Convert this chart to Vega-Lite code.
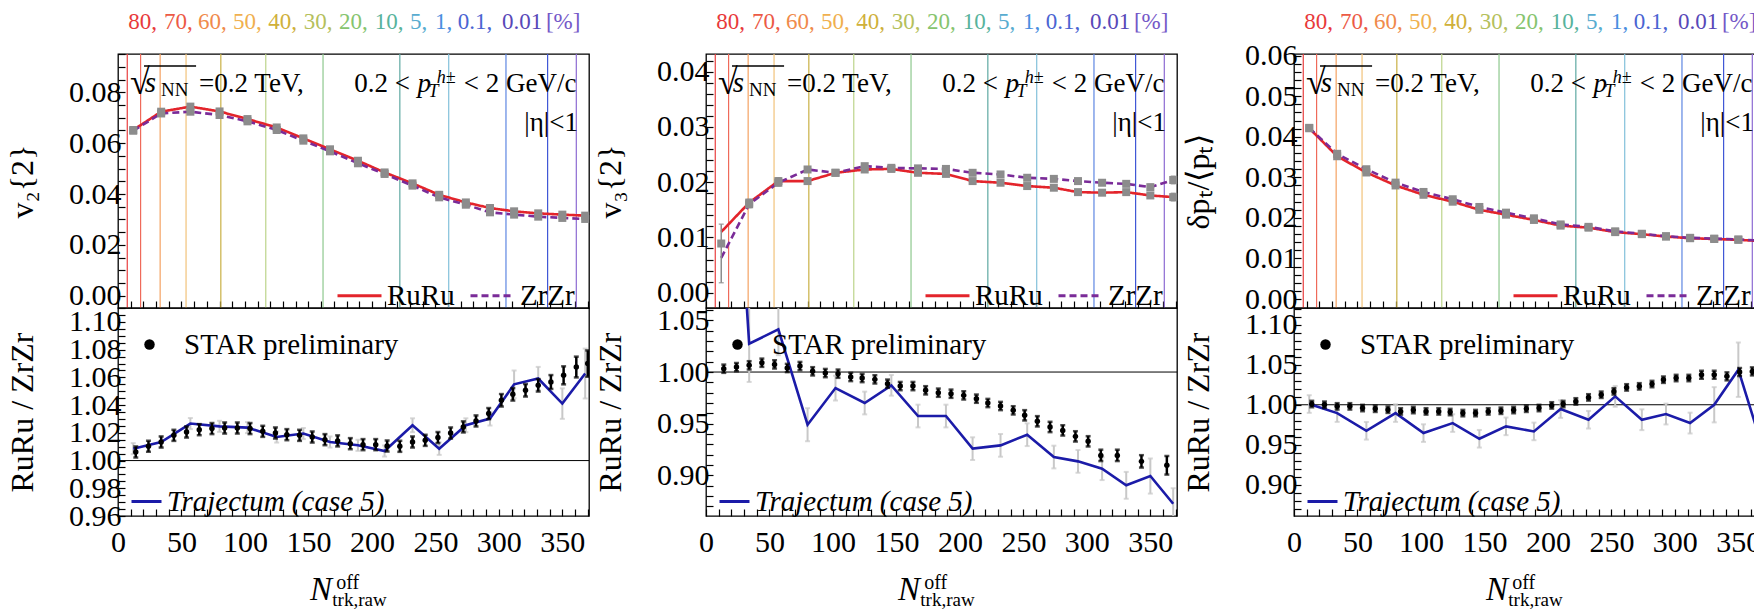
{
"$schema": "https://vega.github.io/schema/vega-lite/v6.json",
"padding": {"left": 5, "top": 10, "right": 0, "bottom": 0},
"background": "white",
"config": {
  "font": "Liberation Serif",
  "view": {"stroke": "black", "strokeWidth": 1.3},
  "axis": {"labelFont": "Liberation Serif", "labelFontSize": 30, "labelColor": "black", "labelFlush": false, "labelOverlap": false, "tickColor": "black", "tickWidth": 1.2, "domain": false, "grid": false, "titleFont": "Liberation Serif", "titleFontSize": 32, "titleFontWeight": "normal", "titleColor": "black"},
  "axisY": {"tickSize": -7, "labelPadding": 4, "titleX": -96, "titleAngle": 270, "titleBaseline": "middle", "titleAlign": "center"},
  "axisX": {"tickSize": -7, "labelPadding": 18},
  "legend": {"labelFont": "Liberation Serif", "labelFontSize": 29, "labelColor": "black", "labelLimit": 0},
  "text": {"font": "Liberation Serif", "color": "black"},
  "style": {"hdr": {"fontSize": 23, "align": "left", "baseline": "alphabetic", "dy": -25}, "ann": {"fontSize": 27, "align": "left", "baseline": "alphabetic"}}
},
"datasets": {
  "cent": [{"c":"80","n":7.3},{"c":"70","n":17.8},{"c":"60","n":33.2},{"c":"50","n":53.6},{"c":"40","n":81},{"c":"30","n":116.4},{"c":"20","n":161.5},{"c":"10","n":222},{"c":"5","n":260.5},{"c":"1","n":305.6},{"c":"0.1","n":338.4},{"c":"0.01","n":361}],
  "v2": [
    {"x":12,"s":"RuRu","v":0.0652,"e":0.0004},{"x":34,"s":"RuRu","v":0.0724,"e":0.0004},{"x":57,"s":"RuRu","v":0.0744,"e":0.0004},{"x":80,"s":"RuRu","v":0.0725,"e":0.0004},{"x":102,"s":"RuRu","v":0.0695,"e":0.0004},{"x":125,"s":"RuRu","v":0.0662,"e":0.0004},{"x":146,"s":"RuRu","v":0.0619,"e":0.0004},{"x":167,"s":"RuRu","v":0.0576,"e":0.0004},{"x":189,"s":"RuRu","v":0.0531,"e":0.0004},{"x":210,"s":"RuRu","v":0.0485,"e":0.0004},{"x":232,"s":"RuRu","v":0.0442,"e":0.0004},{"x":253,"s":"RuRu","v":0.0397,"e":0.0004},{"x":274,"s":"RuRu","v":0.0367,"e":0.0004},{"x":293,"s":"RuRu","v":0.0345,"e":0.0004},{"x":312,"s":"RuRu","v":0.0332,"e":0.0004},{"x":331,"s":"RuRu","v":0.0324,"e":0.0004},{"x":350,"s":"RuRu","v":0.0319,"e":0.0004},{"x":368,"s":"RuRu","v":0.0315,"e":0.0004},
    {"x":12,"s":"ZrZr","v":0.0649,"e":0.0004},{"x":34,"s":"ZrZr","v":0.0717,"e":0.0004},{"x":57,"s":"ZrZr","v":0.0724,"e":0.0004},{"x":80,"s":"ZrZr","v":0.0711,"e":0.0004},{"x":102,"s":"ZrZr","v":0.0686,"e":0.0004},{"x":125,"s":"ZrZr","v":0.0652,"e":0.0004},{"x":146,"s":"ZrZr","v":0.0610,"e":0.0004},{"x":167,"s":"ZrZr","v":0.0568,"e":0.0004},{"x":189,"s":"ZrZr","v":0.0521,"e":0.0004},{"x":210,"s":"ZrZr","v":0.0479,"e":0.0004},{"x":232,"s":"ZrZr","v":0.0433,"e":0.0004},{"x":253,"s":"ZrZr","v":0.0387,"e":0.0004},{"x":274,"s":"ZrZr","v":0.0358,"e":0.0004},{"x":293,"s":"ZrZr","v":0.0328,"e":0.0004},{"x":312,"s":"ZrZr","v":0.0319,"e":0.0004},{"x":331,"s":"ZrZr","v":0.0311,"e":0.0004},{"x":350,"s":"ZrZr","v":0.0306,"e":0.0004},{"x":368,"s":"ZrZr","v":0.0302,"e":0.0004}
  ],
  "v3": [
    {"x":12,"s":"RuRu","v":0.0110},{"x":34,"s":"RuRu","v":0.0163},{"x":57,"s":"RuRu","v":0.0202},{"x":80,"s":"RuRu","v":0.0202},{"x":102,"s":"RuRu","v":0.0217},{"x":125,"s":"RuRu","v":0.0223},{"x":146,"s":"RuRu","v":0.0224},{"x":167,"s":"RuRu","v":0.0217},{"x":189,"s":"RuRu","v":0.0215},{"x":210,"s":"RuRu","v":0.0202},{"x":232,"s":"RuRu","v":0.0199},{"x":253,"s":"RuRu","v":0.0193},{"x":274,"s":"RuRu","v":0.0190},{"x":293,"s":"RuRu","v":0.0182},{"x":312,"s":"RuRu","v":0.0181},{"x":331,"s":"RuRu","v":0.0182},{"x":350,"s":"RuRu","v":0.0176},{"x":368,"s":"RuRu","v":0.0173},
    {"x":12,"s":"ZrZr","v":0.0063},{"x":34,"s":"ZrZr","v":0.0160},{"x":57,"s":"ZrZr","v":0.0199},{"x":80,"s":"ZrZr","v":0.0223},{"x":102,"s":"ZrZr","v":0.0217},{"x":125,"s":"ZrZr","v":0.0229},{"x":146,"s":"ZrZr","v":0.0226},{"x":167,"s":"ZrZr","v":0.0225},{"x":189,"s":"ZrZr","v":0.0224},{"x":210,"s":"ZrZr","v":0.0217},{"x":232,"s":"ZrZr","v":0.0214},{"x":253,"s":"ZrZr","v":0.0208},{"x":274,"s":"ZrZr","v":0.0206},{"x":293,"s":"ZrZr","v":0.0202},{"x":312,"s":"ZrZr","v":0.0199},{"x":331,"s":"ZrZr","v":0.0197},{"x":350,"s":"ZrZr","v":0.0191},{"x":368,"s":"ZrZr","v":0.0204}
  ],
  "v3m": [
    {"x":12,"v":0.0089,"ep":0.0035,"em":-0.0071},
    {"x":34,"v":0.0163,"ep":0.0006,"em":-0.0006},{"x":57,"v":0.0202,"ep":0.0006,"em":-0.0006},{"x":80,"v":0.0202,"ep":0.0005,"em":-0.0005},{"x":102,"v":0.0217,"ep":0.0004,"em":-0.0004},{"x":125,"v":0.0223,"ep":0.0004,"em":-0.0004},{"x":146,"v":0.0224,"ep":0.0004,"em":-0.0004},{"x":167,"v":0.0217,"ep":0.0004,"em":-0.0004},{"x":189,"v":0.0215,"ep":0.0004,"em":-0.0004},{"x":210,"v":0.0202,"ep":0.0004,"em":-0.0004},{"x":232,"v":0.0199,"ep":0.0004,"em":-0.0004},{"x":253,"v":0.0193,"ep":0.0004,"em":-0.0004},{"x":274,"v":0.0190,"ep":0.0004,"em":-0.0004},{"x":293,"v":0.0182,"ep":0.0004,"em":-0.0004},{"x":312,"v":0.0181,"ep":0.0004,"em":-0.0004},{"x":331,"v":0.0182,"ep":0.0004,"em":-0.0004},{"x":350,"v":0.0176,"ep":0.0005,"em":-0.0005},{"x":368,"v":0.0173,"ep":0.0007,"em":-0.0007},
    {"x":34,"v":0.0160,"ep":0.0006,"em":-0.0006},{"x":57,"v":0.0199,"ep":0.0006,"em":-0.0006},{"x":80,"v":0.0223,"ep":0.0005,"em":-0.0005},{"x":102,"v":0.0217,"ep":0.0004,"em":-0.0004},{"x":125,"v":0.0229,"ep":0.0004,"em":-0.0004},{"x":146,"v":0.0226,"ep":0.0004,"em":-0.0004},{"x":167,"v":0.0225,"ep":0.0004,"em":-0.0004},{"x":189,"v":0.0224,"ep":0.0004,"em":-0.0004},{"x":210,"v":0.0217,"ep":0.0004,"em":-0.0004},{"x":232,"v":0.0214,"ep":0.0004,"em":-0.0004},{"x":253,"v":0.0208,"ep":0.0004,"em":-0.0004},{"x":274,"v":0.0206,"ep":0.0004,"em":-0.0004},{"x":293,"v":0.0202,"ep":0.0004,"em":-0.0004},{"x":312,"v":0.0199,"ep":0.0004,"em":-0.0004},{"x":331,"v":0.0197,"ep":0.0004,"em":-0.0004},{"x":350,"v":0.0191,"ep":0.0005,"em":-0.0005},{"x":368,"v":0.0204,"ep":0.0007,"em":-0.0007}
  ],
  "dp": [
    {"x":12,"s":"RuRu","v":0.0421,"e":0.0003},{"x":34,"s":"RuRu","v":0.0352,"e":0.0003},{"x":57,"s":"RuRu","v":0.0312,"e":0.0003},{"x":80,"s":"RuRu","v":0.0280,"e":0.0003},{"x":102,"s":"RuRu","v":0.0257,"e":0.0003},{"x":125,"s":"RuRu","v":0.0240,"e":0.0003},{"x":146,"s":"RuRu","v":0.0220,"e":0.0003},{"x":167,"s":"RuRu","v":0.0208,"e":0.0003},{"x":189,"s":"RuRu","v":0.0195,"e":0.0003},{"x":210,"s":"RuRu","v":0.0181,"e":0.0003},{"x":232,"s":"RuRu","v":0.0176,"e":0.0003},{"x":253,"s":"RuRu","v":0.0165,"e":0.0003},{"x":274,"s":"RuRu","v":0.0160,"e":0.0003},{"x":293,"s":"RuRu","v":0.0154,"e":0.0003},{"x":312,"s":"RuRu","v":0.0150,"e":0.0003},{"x":331,"s":"RuRu","v":0.0148,"e":0.0003},{"x":350,"s":"RuRu","v":0.0146,"e":0.0004},{"x":368,"s":"RuRu","v":0.0143,"e":0.0004},
    {"x":12,"s":"ZrZr","v":0.0422,"e":0.0003},{"x":34,"s":"ZrZr","v":0.0358,"e":0.0003},{"x":57,"s":"ZrZr","v":0.0320,"e":0.0003},{"x":80,"s":"ZrZr","v":0.0287,"e":0.0003},{"x":102,"s":"ZrZr","v":0.0264,"e":0.0003},{"x":125,"s":"ZrZr","v":0.0246,"e":0.0003},{"x":146,"s":"ZrZr","v":0.0227,"e":0.0003},{"x":167,"s":"ZrZr","v":0.0213,"e":0.0003},{"x":189,"s":"ZrZr","v":0.0199,"e":0.0003},{"x":210,"s":"ZrZr","v":0.0184,"e":0.0003},{"x":232,"s":"ZrZr","v":0.0178,"e":0.0003},{"x":253,"s":"ZrZr","v":0.0167,"e":0.0003},{"x":274,"s":"ZrZr","v":0.0161,"e":0.0003},{"x":293,"s":"ZrZr","v":0.0155,"e":0.0003},{"x":312,"s":"ZrZr","v":0.0151,"e":0.0003},{"x":331,"s":"ZrZr","v":0.0149,"e":0.0003},{"x":350,"s":"ZrZr","v":0.0147,"e":0.0004},{"x":368,"s":"ZrZr","v":0.0144,"e":0.0004}
  ],
  "r1s": [
    {"x":14,"r":1.0062,"e":0.004},{"x":24,"r":1.0103,"e":0.004},{"x":34,"r":1.0134,"e":0.004},{"x":44,"r":1.0182,"e":0.004},{"x":54,"r":1.0206,"e":0.004},{"x":64,"r":1.0223,"e":0.004},{"x":74,"r":1.0231,"e":0.004},{"x":84,"r":1.0235,"e":0.004},{"x":94,"r":1.0235,"e":0.004},{"x":104,"r":1.0231,"e":0.004},{"x":114,"r":1.0211,"e":0.004},{"x":124,"r":1.0199,"e":0.004},{"x":133,"r":1.0187,"e":0.004},{"x":143,"r":1.0182,"e":0.004},{"x":153,"r":1.017,"e":0.004},{"x":163,"r":1.0151,"e":0.004},{"x":173,"r":1.0142,"e":0.004},{"x":183,"r":1.0122,"e":0.004},{"x":193,"r":1.0115,"e":0.004},{"x":203,"r":1.0115,"e":0.004},{"x":212,"r":1.0105,"e":0.004},{"x":222,"r":1.0103,"e":0.004},{"x":232,"r":1.0134,"e":0.004},{"x":242,"r":1.0146,"e":0.004},{"x":252,"r":1.0166,"e":0.004},{"x":262,"r":1.0199,"e":0.004},{"x":272,"r":1.0243,"e":0.004},{"x":282,"r":1.0286,"e":0.004},{"x":292,"r":1.0339,"e":0.004},{"x":302,"r":1.0435,"e":0.0045},{"x":311,"r":1.0478,"e":0.0045},{"x":321,"r":1.0507,"e":0.0045},{"x":331,"r":1.0543,"e":0.0045},{"x":341,"r":1.0567,"e":0.005},{"x":351,"r":1.0615,"e":0.0065},{"x":361,"r":1.0675,"e":0.0075},{"x":370,"r":1.070,"e":0.0095}
  ],
  "r1t": [
    {"x":12,"r":1.0086,"e":0.004},{"x":34,"r":1.0134,"e":0.004},{"x":57,"r":1.0267,"e":0.004},{"x":80,"r":1.0247,"e":0.004},{"x":102,"r":1.0238,"e":0.004},{"x":125,"r":1.0170,"e":0.004},{"x":146,"r":1.0195,"e":0.004},{"x":167,"r":1.0134,"e":0.004},{"x":189,"r":1.0110,"e":0.004},{"x":210,"r":1.0069,"e":0.004},{"x":232,"r":1.0255,"e":0.005},{"x":253,"r":1.0086,"e":0.0045},{"x":274,"r":1.0255,"e":0.005},{"x":293,"r":1.0303,"e":0.005},{"x":312,"r":1.0550,"e":0.01},{"x":331,"r":1.0592,"e":0.0084},{"x":350,"r":1.0411,"e":0.011},{"x":368,"r":1.0628,"e":0.018}
  ],
  "r2s": [
    {"x":14,"r":1.0032,"e":0.004},{"x":24,"r":1.0048,"e":0.004},{"x":34,"r":1.0065,"e":0.004},{"x":44,"r":1.009,"e":0.004},{"x":54,"r":1.0074,"e":0.004},{"x":64,"r":1.0039,"e":0.004},{"x":74,"r":1.0058,"e":0.004},{"x":84,"r":1.0007,"e":0.004},{"x":94,"r":0.999,"e":0.004},{"x":104,"r":0.9984,"e":0.004},{"x":114,"r":0.9952,"e":0.004},{"x":123,"r":0.9942,"e":0.004},{"x":133,"r":0.9929,"e":0.004},{"x":143,"r":0.9887,"e":0.004},{"x":153,"r":0.9864,"e":0.004},{"x":163,"r":0.9864,"e":0.004},{"x":173,"r":0.9823,"e":0.004},{"x":183,"r":0.98,"e":0.004},{"x":193,"r":0.979,"e":0.004},{"x":203,"r":0.9774,"e":0.004},{"x":213,"r":0.9742,"e":0.004},{"x":222,"r":0.97,"e":0.004},{"x":232,"r":0.9671,"e":0.004},{"x":242,"r":0.9629,"e":0.004},{"x":251,"r":0.9581,"e":0.005},{"x":261,"r":0.9523,"e":0.005},{"x":271,"r":0.9468,"e":0.005},{"x":281,"r":0.9435,"e":0.005},{"x":291,"r":0.9377,"e":0.005},{"x":301,"r":0.9329,"e":0.005},{"x":311,"r":0.9193,"e":0.0055},{"x":324,"r":0.9193,"e":0.0055},{"x":343,"r":0.9135,"e":0.006},{"x":363,"r":0.9097,"e":0.009}
  ],
  "r2t": [
    {"x":12,"r":1.45,"e":0.03},{"x":34,"r":1.0274,"e":0.037},{"x":57,"r":1.0413,"e":0.025},{"x":80,"r":0.949,"e":0.016},{"x":102,"r":0.9845,"e":0.012},{"x":125,"r":0.970,"e":0.011},{"x":146,"r":0.9871,"e":0.01},{"x":167,"r":0.9574,"e":0.011},{"x":189,"r":0.9574,"e":0.011},{"x":210,"r":0.9258,"e":0.011},{"x":232,"r":0.929,"e":0.011},{"x":253,"r":0.9393,"e":0.011},{"x":274,"r":0.9177,"e":0.011},{"x":293,"r":0.9135,"e":0.011},{"x":312,"r":0.9064,"e":0.011},{"x":331,"r":0.8903,"e":0.013},{"x":350,"r":0.8993,"e":0.017},{"x":368,"r":0.8725,"e":0.015}
  ],
  "r3s": [
    {"x":14,"r":1.0009,"e":0.004},{"x":24,"r":1.0,"e":0.004},{"x":34,"r":0.998,"e":0.004},{"x":44,"r":0.998,"e":0.004},{"x":54,"r":0.9959,"e":0.004},{"x":64,"r":0.995,"e":0.004},{"x":74,"r":0.9938,"e":0.004},{"x":84,"r":0.9917,"e":0.004},{"x":94,"r":0.9934,"e":0.004},{"x":104,"r":0.9917,"e":0.004},{"x":114,"r":0.9917,"e":0.004},{"x":123,"r":0.9909,"e":0.004},{"x":133,"r":0.9896,"e":0.004},{"x":143,"r":0.9896,"e":0.004},{"x":153,"r":0.9917,"e":0.004},{"x":163,"r":0.9925,"e":0.004},{"x":173,"r":0.9934,"e":0.004},{"x":183,"r":0.995,"e":0.004},{"x":193,"r":0.9959,"e":0.004},{"x":203,"r":0.9992,"e":0.004},{"x":212,"r":1.0009,"e":0.004},{"x":222,"r":1.0042,"e":0.004},{"x":232,"r":1.0092,"e":0.004},{"x":242,"r":1.0125,"e":0.004},{"x":252,"r":1.0167,"e":0.004},{"x":262,"r":1.0217,"e":0.004},{"x":272,"r":1.023,"e":0.004},{"x":282,"r":1.0259,"e":0.004},{"x":291,"r":1.0313,"e":0.004},{"x":301,"r":1.0334,"e":0.004},{"x":311,"r":1.0334,"e":0.004},{"x":321,"r":1.0375,"e":0.005},{"x":331,"r":1.0375,"e":0.005},{"x":341,"r":1.0355,"e":0.005},{"x":351,"r":1.0409,"e":0.005},{"x":361,"r":1.0417,"e":0.005}
  ],
  "r3t": [
    {"x":12,"r":1.0009,"e":0.011},{"x":34,"r":0.9896,"e":0.011},{"x":57,"r":0.9675,"e":0.011},{"x":80,"r":0.9896,"e":0.011},{"x":102,"r":0.9646,"e":0.011},{"x":125,"r":0.9771,"e":0.011},{"x":146,"r":0.9575,"e":0.011},{"x":167,"r":0.973,"e":0.011},{"x":189,"r":0.9667,"e":0.011},{"x":210,"r":0.9946,"e":0.011},{"x":232,"r":0.9813,"e":0.011},{"x":253,"r":1.0105,"e":0.013},{"x":274,"r":0.9813,"e":0.013},{"x":293,"r":0.9884,"e":0.013},{"x":312,"r":0.9771,"e":0.013},{"x":331,"r":1.0,"e":0.022},{"x":350,"r":1.0438,"e":0.034},{"x":368,"r":0.952,"e":0.03}
  ]
},
"hconcat": [
 {"vconcat": [
  {"width": 471, "height": 254, "data": {"values": [{}]},
   "layer": [
    {"data": {"name": "cent"}, "mark": {"type": "rule", "strokeWidth": 1.2},
     "encoding": {"x": {"field": "n", "type": "quantitative", "scale": {"domain": [0, 371], "nice": false, "zero": false}, "axis": {"values": [0,10,20,30,40,50,60,70,80,90,100,110,120,130,140,150,160,170,180,190,200,210,220,230,240,250,260,270,280,290,300,310,320,330,340,350,360,370], "tickCount": 100, "labels": false, "title": null}},
      "stroke": {"field": "c", "type": "nominal", "scale": {"domain": ["80","70","60","50","40","30","20","10","5","1","0.1","0.01"], "range": ["#e84040","#ef6a5a","#f4a262","#f2c27a","#c9b044","#bcd48a","#8ec88e","#5fa9a2","#82c0da","#5d86e2","#3e55d6","#8c6ad2"]}, "legend": null}}},
    {"data": {"name": "v2"}, "mark": {"type": "line", "strokeWidth": 2.6},
     "encoding": {"x": {"field": "x", "type": "quantitative", "title": null},
      "y": {"field": "v", "type": "quantitative", "scale": {"domain": [-0.00484, 0.0951], "nice": false, "zero": false}, "axis": {"values": [0,0.005,0.01,0.015,0.02,0.025,0.03,0.035,0.04,0.045,0.05,0.055,0.06,0.065,0.07,0.075,0.08,0.085,0.09,0.095], "tickCount": 100, "labelOverlap": false, "labelExpr": "round(datum.value*1000) % 20 == 0 ? format(datum.value, '.2f') : ''", "title": "v₂{2}", "titleY": 127}},
      "color": {"field": "s", "type": "nominal", "scale": {"domain": ["RuRu","ZrZr"], "range": ["#e3242b","#7a2b98"]}, "legend": {"orient": "none", "legendX": 218, "legendY": 218, "direction": "horizontal", "title": null, "symbolType": "stroke", "symbolSize": 1936, "symbolStrokeWidth": 3, "labelOffset": 4, "columnPadding": 9, "padding": 0}},
      "strokeDash": {"field": "s", "type": "nominal", "scale": {"domain": ["RuRu","ZrZr"], "range": [[1,0],[7,4]]}, "legend": {"orient": "none", "legendX": 218, "legendY": 218, "direction": "horizontal", "title": null, "symbolType": "stroke", "symbolSize": 1936, "symbolStrokeWidth": 3, "labelOffset": 4, "columnPadding": 9, "padding": 0}}}},
    {"data": {"name": "v2"}, "mark": {"type": "errorbar", "color": "#8c8c8c", "ticks": true, "thickness": 1.5},
     "encoding": {"x": {"field": "x", "type": "quantitative", "title": null}, "y": {"field": "v", "type": "quantitative", "title": "v₂{2}"}, "yError": {"field": "e"}}},
    {"data": {"name": "v2"}, "mark": {"type": "point", "shape": "square", "filled": true, "size": 64, "color": "#8c8c8c", "opacity": 1},
     "encoding": {"x": {"field": "x", "type": "quantitative", "title": null}, "y": {"field": "v", "type": "quantitative", "title": "v₂{2}"}}},
    {"mark":{"type":"text","style":"hdr","text":"80,","color":"#e8393a"},"encoding":{"x":{"datum":8.1},"y":{"datum":0.0951}}},
    {"mark":{"type":"text","style":"hdr","text":"70,","color":"#ec5a45"},"encoding":{"x":{"datum":36.2},"y":{"datum":0.0951}}},
    {"mark":{"type":"text","style":"hdr","text":"60,","color":"#f08a4b"},"encoding":{"x":{"datum":63.1},"y":{"datum":0.0951}}},
    {"mark":{"type":"text","style":"hdr","text":"50,","color":"#f0b04e"},"encoding":{"x":{"datum":90.5},"y":{"datum":0.0951}}},
    {"mark":{"type":"text","style":"hdr","text":"40,","color":"#cfb03a"},"encoding":{"x":{"datum":118.3},"y":{"datum":0.0951}}},
    {"mark":{"type":"text","style":"hdr","text":"30,","color":"#b5c05c"},"encoding":{"x":{"datum":146.4},"y":{"datum":0.0951}}},
    {"mark":{"type":"text","style":"hdr","text":"20,","color":"#86c46e"},"encoding":{"x":{"datum":174.1},"y":{"datum":0.0951}}},
    {"mark":{"type":"text","style":"hdr","text":"10,","color":"#58b39c"},"encoding":{"x":{"datum":202.2},"y":{"datum":0.0951}}},
    {"mark":{"type":"text","style":"hdr","text":"5,","color":"#58acd0"},"encoding":{"x":{"datum":230},"y":{"datum":0.0951}}},
    {"mark":{"type":"text","style":"hdr","text":"1,","color":"#4a8ee0"},"encoding":{"x":{"datum":249.6},"y":{"datum":0.0951}}},
    {"mark":{"type":"text","style":"hdr","text":"0.1,","color":"#4a64d2"},"encoding":{"x":{"datum":267.7},"y":{"datum":0.0951}}},
    {"mark":{"type":"text","style":"hdr","text":"0.01","color":"#5848b8"},"encoding":{"x":{"datum":302.4},"y":{"datum":0.0951}}},
    {"mark":{"type":"text","style":"hdr","text":"[%]","color":"#7458c8"},"encoding":{"x":{"datum":337.1},"y":{"datum":0.0951}}},
    {"mark":{"type":"text","style":"ann","text":"√","fontSize":36,"dy":40},"encoding":{"x":{"datum":9.5},"y":{"datum":0.0951}}},
    {"mark":{"type":"rule","strokeWidth":1.5,"color":"black","yOffset":12},"encoding":{"x":{"datum":20.5},"x2":{"datum":61.5},"y":{"datum":0.0951}}},
    {"mark":{"type":"text","style":"ann","text":"s","fontStyle":"italic","fontSize":29,"dy":38},"encoding":{"x":{"datum":21.1},"y":{"datum":0.0951}}},
    {"mark":{"type":"text","style":"ann","text":"NN","fontSize":19,"dy":42},"encoding":{"x":{"datum":33.8},"y":{"datum":0.0951}}},
    {"mark":{"type":"text","style":"ann","text":"=0.2 TeV,","dy":38},"encoding":{"x":{"datum":63.9},"y":{"datum":0.0951}}},
    {"mark":{"type":"text","style":"ann","text":"0.2 <","dy":38},"encoding":{"x":{"datum":186.1},"y":{"datum":0.0951}}},
    {"mark":{"type":"text","style":"ann","text":"p","fontStyle":"italic","dy":38},"encoding":{"x":{"datum":236},"y":{"datum":0.0951}}},
    {"mark":{"type":"text","style":"ann","text":"T","fontStyle":"italic","fontSize":18,"dy":43},"encoding":{"x":{"datum":244.5},"y":{"datum":0.0951}}},
    {"mark":{"type":"text","style":"ann","text":"h±","fontStyle":"italic","fontSize":18,"dy":29},"encoding":{"x":{"datum":251.1},"y":{"datum":0.0951}}},
    {"mark":{"type":"text","style":"ann","text":"< 2 GeV/c","align":"right","dy":38},"encoding":{"x":{"datum":361.2},"y":{"datum":0.0951}}},
    {"mark":{"type":"text","style":"ann","text":"|η|<1","align":"right","dy":77},"encoding":{"x":{"datum":362.3},"y":{"datum":0.0951}}}
   ]},
  {"width": 471, "height": 208, "data": {"values": [{}]},
   "layer": [
    {"mark": {"type": "rule", "color": "black", "strokeWidth": 1}, "encoding": {"y": {"datum": 1}}},
    {"data": {"name": "r1t"}, "mark": {"type": "errorbar", "color": "#c8c8c8", "ticks": true, "thickness": 2, "clip": true},
     "encoding": {"x": {"field": "x", "type": "quantitative", "title": null}, "y": {"field": "r", "type": "quantitative", "title": "RuRu / ZrZr"}, "yError": {"field": "e"}}},
    {"data": {"name": "r1t"}, "mark": {"type": "line", "strokeWidth": 2.6, "clip": true},
     "encoding": {"x": {"field": "x", "type": "quantitative", "scale": {"domain": [0, 371], "nice": false, "zero": false}, "axis": {"values": [0,10,20,30,40,50,60,70,80,90,100,110,120,130,140,150,160,170,180,190,200,210,220,230,240,250,260,270,280,290,300,310,320,330,340,350,360,370], "tickCount": 100, "labelOverlap": false, "labelExpr": "datum.value % 50 == 0 ? datum.label : ''", "title": null}},
      "y": {"field": "r", "type": "quantitative", "scale": {"domain": [0.96, 1.1101], "nice": false, "zero": false}, "axis": {"values": [0.96,0.965,0.97,0.975,0.98,0.985,0.99,0.995,1,1.005,1.01,1.015,1.02,1.025,1.03,1.035,1.04,1.045,1.05,1.055,1.06,1.065,1.07,1.075,1.08,1.085,1.09,1.095,1.1,1.105,1.11], "tickCount": 100, "labelOverlap": false, "labelExpr": "round(datum.value*1000) % 20 == 0 ? format(datum.value, '.2f') : ''", "title": "RuRu / ZrZr", "titleY": 104}},
      "color": {"datum": "Trajectum (case 5)", "scale": {"range": ["#1b1ba8"]}, "legend": {"orient": "none", "legendX": 12, "legendY": 177, "title": null, "symbolType": "stroke", "symbolSize": 900, "symbolStrokeWidth": 3, "labelOffset": 4, "labelFontStyle": "italic", "padding": 0}}}},
    {"data": {"name": "r1s"}, "mark": {"type": "errorbar", "color": "black", "ticks": true, "thickness": 2.5, "clip": true},
     "encoding": {"x": {"field": "x", "type": "quantitative", "title": null}, "y": {"field": "r", "type": "quantitative", "title": "RuRu / ZrZr"}, "yError": {"field": "e"}}},
    {"data": {"name": "r1s"}, "mark": {"type": "point", "filled": true, "color": "black", "size": 30, "opacity": 1, "clip": true},
     "encoding": {"x": {"field": "x", "type": "quantitative", "title": null}, "y": {"field": "r", "type": "quantitative", "title": "RuRu / ZrZr"},
      "shape": {"datum": "STAR preliminary", "scale": {"range": ["circle"]}, "legend": {"orient": "none", "legendX": 17, "legendY": 22, "title": null, "symbolType": "circle", "symbolSize": 110, "symbolFillColor": "black", "symbolStrokeColor": "black", "labelOffset": 20, "padding": 0}}}},
    {"mark":{"type":"text","style":"ann","text":"N","fontStyle":"italic","fontSize":33,"dy":84},"encoding":{"x":{"datum":151.3},"y":{"datum":0.96}}},
    {"mark":{"type":"text","style":"ann","text":"off","fontSize":20,"dy":73},"encoding":{"x":{"datum":171.9},"y":{"datum":0.96}}},
    {"mark":{"type":"text","style":"ann","text":"trk,raw","fontSize":19,"dy":90},"encoding":{"x":{"datum":168.8},"y":{"datum":0.96}}}
   ]}
 ], "spacing": 0, "bounds": "flush",
 "resolve": {"scale": {"color": "independent", "shape": "independent", "strokeDash": "independent", "stroke": "independent"}, "legend": {"color": "independent", "shape": "independent", "strokeDash": "independent", "stroke": "independent"}}},

 {"vconcat": [
  {"width": 471, "height": 254, "data": {"values": [{}]},
   "layer": [
    {"data": {"name": "cent"}, "mark": {"type": "rule", "strokeWidth": 1.2},
     "encoding": {"x": {"field": "n", "type": "quantitative", "scale": {"domain": [0, 371], "nice": false, "zero": false}, "axis": {"values": [0,10,20,30,40,50,60,70,80,90,100,110,120,130,140,150,160,170,180,190,200,210,220,230,240,250,260,270,280,290,300,310,320,330,340,350,360,370], "tickCount": 100, "labels": false, "title": null}},
      "stroke": {"field": "c", "type": "nominal", "scale": {"domain": ["80","70","60","50","40","30","20","10","5","1","0.1","0.01"], "range": ["#e84040","#ef6a5a","#f4a262","#f2c27a","#c9b044","#bcd48a","#8ec88e","#5fa9a2","#82c0da","#5d86e2","#3e55d6","#8c6ad2"]}, "legend": null}}},
    {"data": {"name": "v3"}, "mark": {"type": "line", "strokeWidth": 2.6},
     "encoding": {"x": {"field": "x", "type": "quantitative", "title": null},
      "y": {"field": "v", "type": "quantitative", "scale": {"domain": [-0.00277, 0.0432], "nice": false, "zero": false}, "axis": {"values": [0,0.002,0.004,0.006,0.008,0.01,0.012,0.014,0.016,0.018,0.02,0.022,0.024,0.026,0.028,0.03,0.032,0.034,0.036,0.038,0.04,0.042], "tickCount": 100, "labelOverlap": false, "labelExpr": "round(datum.value*1000) % 10 == 0 ? format(datum.value, '.2f') : ''", "title": "v₃{2}", "titleY": 127}},
      "color": {"field": "s", "type": "nominal", "scale": {"domain": ["RuRu","ZrZr"], "range": ["#e3242b","#7a2b98"]}, "legend": {"orient": "none", "legendX": 218, "legendY": 218, "direction": "horizontal", "title": null, "symbolType": "stroke", "symbolSize": 1936, "symbolStrokeWidth": 3, "labelOffset": 4, "columnPadding": 9, "padding": 0}},
      "strokeDash": {"field": "s", "type": "nominal", "scale": {"domain": ["RuRu","ZrZr"], "range": [[1,0],[7,4]]}, "legend": {"orient": "none", "legendX": 218, "legendY": 218, "direction": "horizontal", "title": null, "symbolType": "stroke", "symbolSize": 1936, "symbolStrokeWidth": 3, "labelOffset": 4, "columnPadding": 9, "padding": 0}}}},
    {"data": {"name": "v3m"}, "mark": {"type": "errorbar", "color": "#8c8c8c", "ticks": true, "thickness": 1.5},
     "encoding": {"x": {"field": "x", "type": "quantitative", "title": null}, "y": {"field": "v", "type": "quantitative", "title": "v₃{2}"}, "yError": {"field": "ep"}, "yError2": {"field": "em"}}},
    {"data": {"name": "v3m"}, "mark": {"type": "point", "shape": "square", "filled": true, "size": 64, "color": "#8c8c8c", "opacity": 1},
     "encoding": {"x": {"field": "x", "type": "quantitative", "title": null}, "y": {"field": "v", "type": "quantitative", "title": "v₃{2}"}}},
    {"mark":{"type":"text","style":"hdr","text":"80,","color":"#e8393a"},"encoding":{"x":{"datum":8.1},"y":{"datum":0.0432}}},
    {"mark":{"type":"text","style":"hdr","text":"70,","color":"#ec5a45"},"encoding":{"x":{"datum":36.2},"y":{"datum":0.0432}}},
    {"mark":{"type":"text","style":"hdr","text":"60,","color":"#f08a4b"},"encoding":{"x":{"datum":63.1},"y":{"datum":0.0432}}},
    {"mark":{"type":"text","style":"hdr","text":"50,","color":"#f0b04e"},"encoding":{"x":{"datum":90.5},"y":{"datum":0.0432}}},
    {"mark":{"type":"text","style":"hdr","text":"40,","color":"#cfb03a"},"encoding":{"x":{"datum":118.3},"y":{"datum":0.0432}}},
    {"mark":{"type":"text","style":"hdr","text":"30,","color":"#b5c05c"},"encoding":{"x":{"datum":146.4},"y":{"datum":0.0432}}},
    {"mark":{"type":"text","style":"hdr","text":"20,","color":"#86c46e"},"encoding":{"x":{"datum":174.1},"y":{"datum":0.0432}}},
    {"mark":{"type":"text","style":"hdr","text":"10,","color":"#58b39c"},"encoding":{"x":{"datum":202.2},"y":{"datum":0.0432}}},
    {"mark":{"type":"text","style":"hdr","text":"5,","color":"#58acd0"},"encoding":{"x":{"datum":230},"y":{"datum":0.0432}}},
    {"mark":{"type":"text","style":"hdr","text":"1,","color":"#4a8ee0"},"encoding":{"x":{"datum":249.6},"y":{"datum":0.0432}}},
    {"mark":{"type":"text","style":"hdr","text":"0.1,","color":"#4a64d2"},"encoding":{"x":{"datum":267.7},"y":{"datum":0.0432}}},
    {"mark":{"type":"text","style":"hdr","text":"0.01","color":"#5848b8"},"encoding":{"x":{"datum":302.4},"y":{"datum":0.0432}}},
    {"mark":{"type":"text","style":"hdr","text":"[%]","color":"#7458c8"},"encoding":{"x":{"datum":337.1},"y":{"datum":0.0432}}},
    {"mark":{"type":"text","style":"ann","text":"√","fontSize":36,"dy":40},"encoding":{"x":{"datum":9.5},"y":{"datum":0.0432}}},
    {"mark":{"type":"rule","strokeWidth":1.5,"color":"black","yOffset":12},"encoding":{"x":{"datum":20.5},"x2":{"datum":61.5},"y":{"datum":0.0432}}},
    {"mark":{"type":"text","style":"ann","text":"s","fontStyle":"italic","fontSize":29,"dy":38},"encoding":{"x":{"datum":21.1},"y":{"datum":0.0432}}},
    {"mark":{"type":"text","style":"ann","text":"NN","fontSize":19,"dy":42},"encoding":{"x":{"datum":33.8},"y":{"datum":0.0432}}},
    {"mark":{"type":"text","style":"ann","text":"=0.2 TeV,","dy":38},"encoding":{"x":{"datum":63.9},"y":{"datum":0.0432}}},
    {"mark":{"type":"text","style":"ann","text":"0.2 <","dy":38},"encoding":{"x":{"datum":186.1},"y":{"datum":0.0432}}},
    {"mark":{"type":"text","style":"ann","text":"p","fontStyle":"italic","dy":38},"encoding":{"x":{"datum":236},"y":{"datum":0.0432}}},
    {"mark":{"type":"text","style":"ann","text":"T","fontStyle":"italic","fontSize":18,"dy":43},"encoding":{"x":{"datum":244.5},"y":{"datum":0.0432}}},
    {"mark":{"type":"text","style":"ann","text":"h±","fontStyle":"italic","fontSize":18,"dy":29},"encoding":{"x":{"datum":251.1},"y":{"datum":0.0432}}},
    {"mark":{"type":"text","style":"ann","text":"< 2 GeV/c","align":"right","dy":38},"encoding":{"x":{"datum":361.2},"y":{"datum":0.0432}}},
    {"mark":{"type":"text","style":"ann","text":"|η|<1","align":"right","dy":77},"encoding":{"x":{"datum":362.3},"y":{"datum":0.0432}}}
   ]},
  {"width": 471, "height": 208, "data": {"values": [{}]},
   "layer": [
    {"mark": {"type": "rule", "color": "black", "strokeWidth": 1}, "encoding": {"y": {"datum": 1}}},
    {"data": {"name": "r2t"}, "mark": {"type": "errorbar", "color": "#c8c8c8", "ticks": true, "thickness": 2, "clip": true},
     "encoding": {"x": {"field": "x", "type": "quantitative", "title": null}, "y": {"field": "r", "type": "quantitative", "title": "RuRu / ZrZr"}, "yError": {"field": "e"}}},
    {"data": {"name": "r2t"}, "mark": {"type": "line", "strokeWidth": 2.6, "clip": true},
     "encoding": {"x": {"field": "x", "type": "quantitative", "scale": {"domain": [0, 371], "nice": false, "zero": false}, "axis": {"values": [0,10,20,30,40,50,60,70,80,90,100,110,120,130,140,150,160,170,180,190,200,210,220,230,240,250,260,270,280,290,300,310,320,330,340,350,360,370], "tickCount": 100, "labelOverlap": false, "labelExpr": "datum.value % 50 == 0 ? datum.label : ''", "title": null}},
      "y": {"field": "r", "type": "quantitative", "scale": {"domain": [0.8606, 1.062], "nice": false, "zero": false}, "axis": {"values": [0.87,0.88,0.89,0.9,0.91,0.92,0.93,0.94,0.95,0.96,0.97,0.98,0.99,1,1.01,1.02,1.03,1.04,1.05,1.06], "tickCount": 100, "labelOverlap": false, "labelExpr": "round(datum.value*100) % 5 == 0 ? format(datum.value, '.2f') : ''", "title": "RuRu / ZrZr", "titleY": 104}},
      "color": {"datum": "Trajectum (case 5)", "scale": {"range": ["#1b1ba8"]}, "legend": {"orient": "none", "legendX": 12, "legendY": 177, "title": null, "symbolType": "stroke", "symbolSize": 900, "symbolStrokeWidth": 3, "labelOffset": 4, "labelFontStyle": "italic", "padding": 0}}}},
    {"data": {"name": "r2s"}, "mark": {"type": "errorbar", "color": "black", "ticks": true, "thickness": 2.5, "clip": true},
     "encoding": {"x": {"field": "x", "type": "quantitative", "title": null}, "y": {"field": "r", "type": "quantitative", "title": "RuRu / ZrZr"}, "yError": {"field": "e"}}},
    {"data": {"name": "r2s"}, "mark": {"type": "point", "filled": true, "color": "black", "size": 30, "opacity": 1, "clip": true},
     "encoding": {"x": {"field": "x", "type": "quantitative", "title": null}, "y": {"field": "r", "type": "quantitative", "title": "RuRu / ZrZr"},
      "shape": {"datum": "STAR preliminary", "scale": {"range": ["circle"]}, "legend": {"orient": "none", "legendX": 17, "legendY": 22, "title": null, "symbolType": "circle", "symbolSize": 110, "symbolFillColor": "black", "symbolStrokeColor": "black", "labelOffset": 20, "padding": 0}}}},
    {"mark":{"type":"text","style":"ann","text":"N","fontStyle":"italic","fontSize":33,"dy":84},"encoding":{"x":{"datum":151.3},"y":{"datum":0.8606}}},
    {"mark":{"type":"text","style":"ann","text":"off","fontSize":20,"dy":73},"encoding":{"x":{"datum":171.9},"y":{"datum":0.8606}}},
    {"mark":{"type":"text","style":"ann","text":"trk,raw","fontSize":19,"dy":90},"encoding":{"x":{"datum":168.8},"y":{"datum":0.8606}}}
   ]}
 ], "spacing": 0, "bounds": "flush",
 "resolve": {"scale": {"color": "independent", "shape": "independent", "strokeDash": "independent", "stroke": "independent"}, "legend": {"color": "independent", "shape": "independent", "strokeDash": "independent", "stroke": "independent"}}},

 {"vconcat": [
  {"width": 471, "height": 254, "data": {"values": [{}]},
   "layer": [
    {"data": {"name": "cent"}, "mark": {"type": "rule", "strokeWidth": 1.2},
     "encoding": {"x": {"field": "n", "type": "quantitative", "scale": {"domain": [0, 371], "nice": false, "zero": false}, "axis": {"values": [0,10,20,30,40,50,60,70,80,90,100,110,120,130,140,150,160,170,180,190,200,210,220,230,240,250,260,270,280,290,300,310,320,330,340,350,360,370], "tickCount": 100, "labels": false, "title": null}},
      "stroke": {"field": "c", "type": "nominal", "scale": {"domain": ["80","70","60","50","40","30","20","10","5","1","0.1","0.01"], "range": ["#e84040","#ef6a5a","#f4a262","#f2c27a","#c9b044","#bcd48a","#8ec88e","#5fa9a2","#82c0da","#5d86e2","#3e55d6","#8c6ad2"]}, "legend": null}}},
    {"data": {"name": "dp"}, "mark": {"type": "line", "strokeWidth": 2.6},
     "encoding": {"x": {"field": "x", "type": "quantitative", "title": null},
      "y": {"field": "v", "type": "quantitative", "scale": {"domain": [-0.0022, 0.0604], "nice": false, "zero": false}, "axis": {"values": [0,0.002,0.004,0.006,0.008,0.01,0.012,0.014,0.016,0.018,0.02,0.022,0.024,0.026,0.028,0.03,0.032,0.034,0.036,0.038,0.04,0.042,0.044,0.046,0.048,0.05,0.052,0.054,0.056,0.058,0.06], "tickCount": 100, "labelOverlap": false, "labelExpr": "round(datum.value*1000) % 10 == 0 ? format(datum.value, '.2f') : ''", "title": "δpₜ/⟨pₜ⟩", "titleY": 127}},
      "color": {"field": "s", "type": "nominal", "scale": {"domain": ["RuRu","ZrZr"], "range": ["#e3242b","#7a2b98"]}, "legend": {"orient": "none", "legendX": 218, "legendY": 218, "direction": "horizontal", "title": null, "symbolType": "stroke", "symbolSize": 1936, "symbolStrokeWidth": 3, "labelOffset": 4, "columnPadding": 9, "padding": 0}},
      "strokeDash": {"field": "s", "type": "nominal", "scale": {"domain": ["RuRu","ZrZr"], "range": [[1,0],[7,4]]}, "legend": {"orient": "none", "legendX": 218, "legendY": 218, "direction": "horizontal", "title": null, "symbolType": "stroke", "symbolSize": 1936, "symbolStrokeWidth": 3, "labelOffset": 4, "columnPadding": 9, "padding": 0}}}},
    {"data": {"name": "dp"}, "mark": {"type": "errorbar", "color": "#8c8c8c", "ticks": true, "thickness": 1.5},
     "encoding": {"x": {"field": "x", "type": "quantitative", "title": null}, "y": {"field": "v", "type": "quantitative", "title": "δpₜ/⟨pₜ⟩"}, "yError": {"field": "e"}}},
    {"data": {"name": "dp"}, "mark": {"type": "point", "shape": "square", "filled": true, "size": 64, "color": "#8c8c8c", "opacity": 1},
     "encoding": {"x": {"field": "x", "type": "quantitative", "title": null}, "y": {"field": "v", "type": "quantitative", "title": "δpₜ/⟨pₜ⟩"}}},
    {"mark":{"type":"text","style":"hdr","text":"80,","color":"#e8393a"},"encoding":{"x":{"datum":8.1},"y":{"datum":0.0604}}},
    {"mark":{"type":"text","style":"hdr","text":"70,","color":"#ec5a45"},"encoding":{"x":{"datum":36.2},"y":{"datum":0.0604}}},
    {"mark":{"type":"text","style":"hdr","text":"60,","color":"#f08a4b"},"encoding":{"x":{"datum":63.1},"y":{"datum":0.0604}}},
    {"mark":{"type":"text","style":"hdr","text":"50,","color":"#f0b04e"},"encoding":{"x":{"datum":90.5},"y":{"datum":0.0604}}},
    {"mark":{"type":"text","style":"hdr","text":"40,","color":"#cfb03a"},"encoding":{"x":{"datum":118.3},"y":{"datum":0.0604}}},
    {"mark":{"type":"text","style":"hdr","text":"30,","color":"#b5c05c"},"encoding":{"x":{"datum":146.4},"y":{"datum":0.0604}}},
    {"mark":{"type":"text","style":"hdr","text":"20,","color":"#86c46e"},"encoding":{"x":{"datum":174.1},"y":{"datum":0.0604}}},
    {"mark":{"type":"text","style":"hdr","text":"10,","color":"#58b39c"},"encoding":{"x":{"datum":202.2},"y":{"datum":0.0604}}},
    {"mark":{"type":"text","style":"hdr","text":"5,","color":"#58acd0"},"encoding":{"x":{"datum":230},"y":{"datum":0.0604}}},
    {"mark":{"type":"text","style":"hdr","text":"1,","color":"#4a8ee0"},"encoding":{"x":{"datum":249.6},"y":{"datum":0.0604}}},
    {"mark":{"type":"text","style":"hdr","text":"0.1,","color":"#4a64d2"},"encoding":{"x":{"datum":267.7},"y":{"datum":0.0604}}},
    {"mark":{"type":"text","style":"hdr","text":"0.01","color":"#5848b8"},"encoding":{"x":{"datum":302.4},"y":{"datum":0.0604}}},
    {"mark":{"type":"text","style":"hdr","text":"[%]","color":"#7458c8"},"encoding":{"x":{"datum":337.1},"y":{"datum":0.0604}}},
    {"mark":{"type":"text","style":"ann","text":"√","fontSize":36,"dy":40},"encoding":{"x":{"datum":9.5},"y":{"datum":0.0604}}},
    {"mark":{"type":"rule","strokeWidth":1.5,"color":"black","yOffset":12},"encoding":{"x":{"datum":20.5},"x2":{"datum":61.5},"y":{"datum":0.0604}}},
    {"mark":{"type":"text","style":"ann","text":"s","fontStyle":"italic","fontSize":29,"dy":38},"encoding":{"x":{"datum":21.1},"y":{"datum":0.0604}}},
    {"mark":{"type":"text","style":"ann","text":"NN","fontSize":19,"dy":42},"encoding":{"x":{"datum":33.8},"y":{"datum":0.0604}}},
    {"mark":{"type":"text","style":"ann","text":"=0.2 TeV,","dy":38},"encoding":{"x":{"datum":63.9},"y":{"datum":0.0604}}},
    {"mark":{"type":"text","style":"ann","text":"0.2 <","dy":38},"encoding":{"x":{"datum":186.1},"y":{"datum":0.0604}}},
    {"mark":{"type":"text","style":"ann","text":"p","fontStyle":"italic","dy":38},"encoding":{"x":{"datum":236},"y":{"datum":0.0604}}},
    {"mark":{"type":"text","style":"ann","text":"T","fontStyle":"italic","fontSize":18,"dy":43},"encoding":{"x":{"datum":244.5},"y":{"datum":0.0604}}},
    {"mark":{"type":"text","style":"ann","text":"h±","fontStyle":"italic","fontSize":18,"dy":29},"encoding":{"x":{"datum":251.1},"y":{"datum":0.0604}}},
    {"mark":{"type":"text","style":"ann","text":"< 2 GeV/c","align":"right","dy":38},"encoding":{"x":{"datum":361.2},"y":{"datum":0.0604}}},
    {"mark":{"type":"text","style":"ann","text":"|η|<1","align":"right","dy":77},"encoding":{"x":{"datum":362.3},"y":{"datum":0.0604}}}
   ]},
  {"width": 471, "height": 208, "data": {"values": [{}]},
   "layer": [
    {"mark": {"type": "rule", "color": "black", "strokeWidth": 1}, "encoding": {"y": {"datum": 1}}},
    {"data": {"name": "r3t"}, "mark": {"type": "errorbar", "color": "#c8c8c8", "ticks": true, "thickness": 2, "clip": true},
     "encoding": {"x": {"field": "x", "type": "quantitative", "title": null}, "y": {"field": "r", "type": "quantitative", "title": "RuRu / ZrZr"}, "yError": {"field": "e"}}},
    {"data": {"name": "r3t"}, "mark": {"type": "line", "strokeWidth": 2.6, "clip": true},
     "encoding": {"x": {"field": "x", "type": "quantitative", "scale": {"domain": [0, 371], "nice": false, "zero": false}, "axis": {"values": [0,10,20,30,40,50,60,70,80,90,100,110,120,130,140,150,160,170,180,190,200,210,220,230,240,250,260,270,280,290,300,310,320,330,340,350,360,370], "tickCount": 100, "labelOverlap": false, "labelExpr": "datum.value % 50 == 0 ? datum.label : ''", "title": null}},
      "y": {"field": "r", "type": "quantitative", "scale": {"domain": [0.861, 1.1209], "nice": false, "zero": false}, "axis": {"values": [0.87,0.88,0.89,0.9,0.91,0.92,0.93,0.94,0.95,0.96,0.97,0.98,0.99,1,1.01,1.02,1.03,1.04,1.05,1.06,1.07,1.08,1.09,1.1,1.11,1.12], "tickCount": 100, "labelOverlap": false, "labelExpr": "round(datum.value*100) % 5 == 0 ? format(datum.value, '.2f') : ''", "title": "RuRu / ZrZr", "titleY": 104}},
      "color": {"datum": "Trajectum (case 5)", "scale": {"range": ["#1b1ba8"]}, "legend": {"orient": "none", "legendX": 12, "legendY": 177, "title": null, "symbolType": "stroke", "symbolSize": 900, "symbolStrokeWidth": 3, "labelOffset": 4, "labelFontStyle": "italic", "padding": 0}}}},
    {"data": {"name": "r3s"}, "mark": {"type": "errorbar", "color": "black", "ticks": true, "thickness": 2.5, "clip": true},
     "encoding": {"x": {"field": "x", "type": "quantitative", "title": null}, "y": {"field": "r", "type": "quantitative", "title": "RuRu / ZrZr"}, "yError": {"field": "e"}}},
    {"data": {"name": "r3s"}, "mark": {"type": "point", "filled": true, "color": "black", "size": 30, "opacity": 1, "clip": true},
     "encoding": {"x": {"field": "x", "type": "quantitative", "title": null}, "y": {"field": "r", "type": "quantitative", "title": "RuRu / ZrZr"},
      "shape": {"datum": "STAR preliminary", "scale": {"range": ["circle"]}, "legend": {"orient": "none", "legendX": 17, "legendY": 22, "title": null, "symbolType": "circle", "symbolSize": 110, "symbolFillColor": "black", "symbolStrokeColor": "black", "labelOffset": 20, "padding": 0}}}},
    {"mark":{"type":"text","style":"ann","text":"N","fontStyle":"italic","fontSize":33,"dy":84},"encoding":{"x":{"datum":151.3},"y":{"datum":0.861}}},
    {"mark":{"type":"text","style":"ann","text":"off","fontSize":20,"dy":73},"encoding":{"x":{"datum":171.9},"y":{"datum":0.861}}},
    {"mark":{"type":"text","style":"ann","text":"trk,raw","fontSize":19,"dy":90},"encoding":{"x":{"datum":168.8},"y":{"datum":0.861}}}
   ]}
 ], "spacing": 0, "bounds": "flush",
 "resolve": {"scale": {"color": "independent", "shape": "independent", "strokeDash": "independent", "stroke": "independent"}, "legend": {"color": "independent", "shape": "independent", "strokeDash": "independent", "stroke": "independent"}}}
],
"spacing": 1,
"resolve": {"scale": {"color": "independent", "shape": "independent", "strokeDash": "independent", "stroke": "independent"}, "legend": {"color": "independent", "shape": "independent", "strokeDash": "independent", "stroke": "independent"}}
}
